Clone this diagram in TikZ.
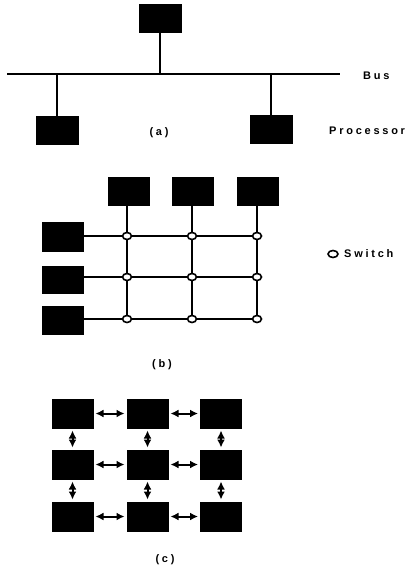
\documentclass[tikz,border=0pt]{standalone}
\usepackage{fontspec}
\newfontfamily\lblfont[LetterSpace=25]{Liberation Sans Bold}
\usetikzlibrary{arrows.meta,shapes.geometric}
\begin{document}
\begin{tikzpicture}[x=1pt,y=-1pt,
  proc/.style={draw=black,fill=black,minimum width=#1,minimum height=28pt,inner sep=0pt,line width=1pt},
  proc/.default=42pt,
  wire/.style={line width=1.4pt},
  sw/.style={draw=black,fill=white,ellipse,minimum width=9pt,minimum height=7pt,inner sep=0pt,line width=1.6pt},
  dbl/.style={line width=2pt,shorten <=2pt,shorten >=2pt,{Latex[length=8pt,width=8pt]}-{Latex[length=8pt,width=8pt]}},
  lbl/.style={font=\lblfont\fontsize{11}{13}\selectfont,inner sep=0pt},
  sub/.style={font=\lblfont\fontsize{11}{13}\selectfont,inner sep=0pt}]
\useasboundingbox (0,0) rectangle (410,569);
% ---------- (a) bus ----------
\coordinate (busL) at (7,74);
\coordinate (busR) at (340,74);
\draw[line width=1.7pt] (busL) -- (busR);
\node[proc] (a1) at (160,19) {};
\node[proc] (a2) at (57,131) {};
\node[proc] (a3) at (271,130) {};
\coordinate (t1) at (160,74);
\coordinate (t2) at (57,74);
\coordinate (t3) at (271,74);
\draw[wire] (a1.south) -- (t1);
\draw[wire] (a2.north) -- (t2);
\draw[wire] (a3.north) -- (t3);
\node[lbl,anchor=west] (bus) at (363,76) {Bus};
\node[lbl,anchor=west] (procl) at (329,131) {Processor};
\node[sub] (la) at (159,133) {(a)};
% ---------- (b) crossbar ----------
\node[proc=41pt,minimum height=27pt] (bt1) at (129,191.5) {};
\node[proc=41pt,minimum height=27pt] (bt2) at (192.5,191.5) {};
\node[proc=41pt,minimum height=27pt] (bt3) at (258,191.5) {};
\node[proc=41pt,minimum height=29pt] (bl1) at (62.5,236.5) {};
\node[proc=41pt,minimum height=27pt] (bl2) at (62.5,279.5) {};
\node[proc=41pt,minimum height=28pt] (bl3) at (62.5,320) {};
\foreach \c/\x in {1/127,2/192,3/257}{
  \foreach \r/\y in {1/236,2/277,3/319}{
    \coordinate (s\r\c) at (\x,\y);
  }
}
\draw[wire] (bl1.east |- s11) -- (s13);
\draw[wire] (bl2.east |- s21) -- (s23);
\draw[wire] (bl3.east |- s31) -- (s33);
\draw[wire] (bt1.south -| s11) -- (s31);
\draw[wire] (bt2.south -| s12) -- (s32);
\draw[wire] (bt3.south -| s13) -- (s33);
\foreach \r in {1,2,3}{\foreach \c in {1,2,3}{\node[sw] (n\r\c) at (s\r\c) {};}}
\node[sw,minimum width=10pt] (swkey) at (333,254) {};
\node[lbl,anchor=west] (swl) at (344,254) {Switch};
\node[sub] (lb) at (162,365) {(b)};
% ---------- (c) mesh ----------
\foreach \r/\y in {1/413.5,2/464.5,3/516.5}{
  \foreach \c/\x in {1/72.5,2/147.5,3/221}{
    \node[proc=41pt,minimum height=29pt] (m\r\c) at (\x,\y) {};
  }
}
\foreach \r in {1,2,3}{
  \draw[dbl] (m\r1.east) -- (m\r2.west);
  \draw[dbl] (m\r2.east) -- (m\r3.west);
}
\foreach \c in {1,2,3}{
  \draw[dbl] (m1\c.south) -- (m2\c.north);
  \draw[dbl] (m2\c.south) -- (m3\c.north);
}
\node[sub] (lc) at (165,560) {(c)};
\end{tikzpicture}
\end{document}
